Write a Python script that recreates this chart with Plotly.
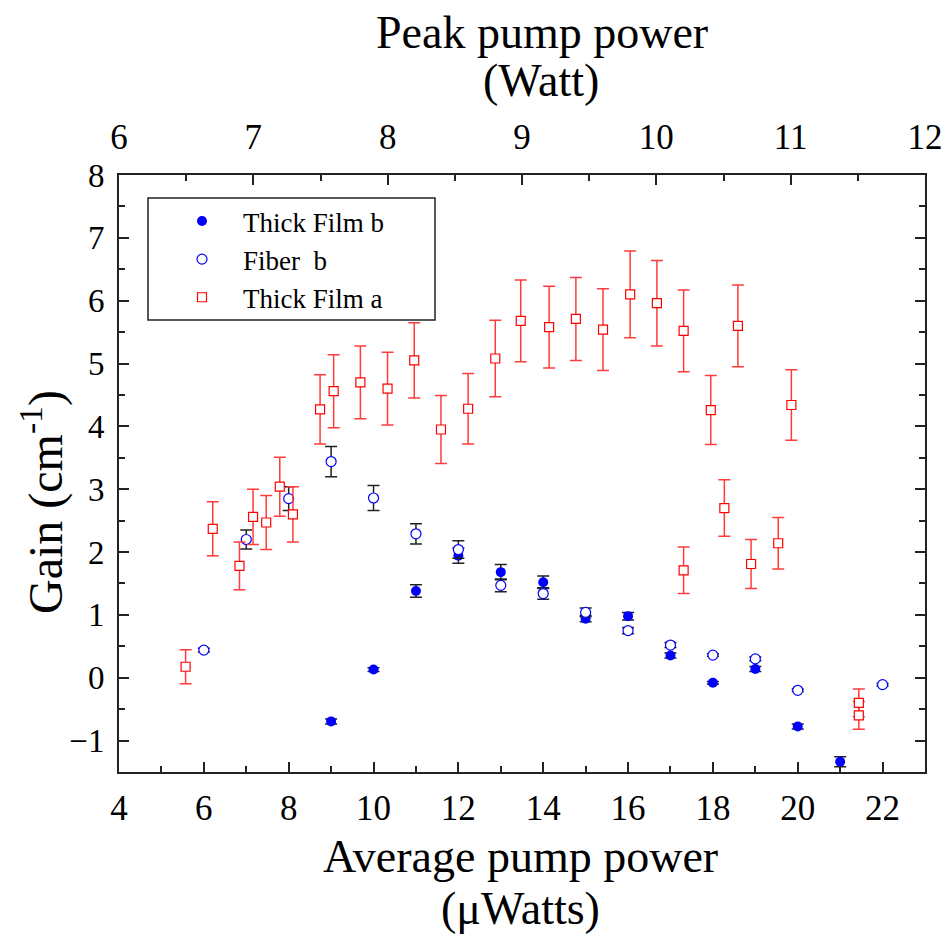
import plotly.graph_objects as go

# ---------------- data ----------------
# Thick Film a (red open squares)
tfa_x = [5.57, 6.21, 6.84, 7.16, 7.47, 7.79, 8.10, 8.74, 9.06, 9.69, 10.33, 10.96,
         11.59, 12.23, 12.87, 13.47, 14.14, 14.77, 15.41, 16.05, 16.68, 17.31,
         17.95, 18.59, 19.85, 17.31, 18.27, 18.90, 19.54, 21.44, 21.44]
tfa_y = [0.175, 2.37, 1.78, 2.56, 2.47, 3.04, 2.60, 4.27, 4.56, 4.70, 4.60, 5.05,
         3.95, 4.28, 5.08, 5.68, 5.58, 5.71, 5.54, 6.10, 5.96, 5.52,
         4.26, 5.60, 4.34, 1.71, 2.70, 1.81, 2.14, -0.40, -0.60]
tfa_err = [0.27, 0.43, 0.38, 0.44, 0.43, 0.47, 0.44, 0.55, 0.58, 0.58, 0.58, 0.60,
           0.54, 0.56, 0.61, 0.65, 0.65, 0.66, 0.65, 0.69, 0.68, 0.65,
           0.55, 0.65, 0.56, 0.37, 0.45, 0.39, 0.41, 0.22, 0.22]

# Fiber b (blue open circles)
fib_x = [6, 7, 8, 9, 10, 11, 12, 13, 14, 15, 16, 17, 18, 19, 20, 22]
fib_y = [0.44, 2.20, 2.85, 3.44, 2.86, 2.29, 2.04, 1.47, 1.34, 1.04, 0.75, 0.52,
         0.36, 0.30, -0.20, -0.11]
fib_err = [0.03, 0.15, 0.19, 0.24, 0.20, 0.16, 0.14, 0.10, 0.09, 0.07, 0.05, 0.04,
           0.02, 0.03, 0.02, 0.02]

# Thick Film b (blue filled circles)
tfb_x = [9, 10, 11, 12, 13, 14, 15, 16, 17, 18, 19, 20, 21]
tfb_y = [-0.695, 0.13, 1.38, 1.94, 1.68, 1.52, 0.94, 0.98, 0.355, -0.08, 0.14,
         -0.775, -1.336]
tfb_err = [0.04, 0.03, 0.10, 0.12, 0.12, 0.10, 0.05, 0.06, 0.04, 0.02, 0.04,
           0.04, 0.08]

bottom_ticks = [4, 6, 8, 10, 12, 14, 16, 18, 20, 22]
top_ticks = [6, 7, 8, 9, 10, 11, 12]
y_ticks = [-1, 0, 1, 2, 3, 4, 5, 6, 7, 8]

FONT = "Liberation Serif"

fig = go.Figure()

fig.add_trace(go.Scatter(
    x=tfb_x, y=tfb_y, mode="markers", name="Thick Film b",
    marker=dict(symbol="circle", size=10, color="#0000ff", line=dict(width=0)),
    error_y=dict(type="data", array=tfb_err, visible=True, color="#222222",
                 thickness=1.5, width=6),
))
fig.add_trace(go.Scatter(
    x=fib_x, y=fib_y, mode="markers", name="Fiber  b",
    marker=dict(symbol="circle", size=10, color="white",
                line=dict(width=1.2, color="#0000ff")),
    error_y=dict(type="data", array=fib_err, visible=True, color="#222222",
                 thickness=1.5, width=6),
))
fig.add_trace(go.Scatter(
    x=tfa_x, y=tfa_y, mode="markers", name="Thick Film a",
    marker=dict(symbol="square", size=9, color="white",
                line=dict(width=1.2, color="#ff0000")),
    error_y=dict(type="data", array=tfa_err, visible=True, color="rgb(255,60,60)",
                 thickness=1.5, width=6),
))
# empty trace that only activates the top (peak power) axis
fig.add_trace(go.Scatter(
    x=top_ticks, y=[None] * len(top_ticks), xaxis="x2", yaxis="y",
    mode="markers", showlegend=False, hoverinfo="skip",
))

axis_common = dict(
    showline=True, linewidth=2, linecolor="#222222", showgrid=False,
    zeroline=False, ticks="inside", ticklen=10, tickwidth=2, tickcolor="#222222",
    automargin=False,
)

fig.update_layout(
    width=947, height=938,
    margin=dict(l=119, r=22, t=175, b=166),
    paper_bgcolor="white", plot_bgcolor="white",
    showlegend=True,
    legend=dict(
        x=(161 - 119) / 806, y=(772 - 197) / 597, xanchor="left", yanchor="top",
        bgcolor="rgba(0,0,0,0)", borderwidth=0, itemwidth=72,
        font=dict(family=FONT, size=27, color="black"),
    ),
    xaxis=dict(range=[4, 23], tickvals=bottom_ticks,
               tickfont=dict(family=FONT, size=35, color="black"),
               ticklabelstandoff=4,
               minor=dict(dtick=1, tick0=4, ticks="inside", ticklen=6, tickwidth=1.5,
                          tickcolor="#222222"),
               **axis_common),
    xaxis2=dict(range=[6, 12], tickvals=top_ticks, overlaying="x", side="top",
                anchor="y",
                tickfont=dict(family=FONT, size=35, color="black"),
                ticklabelstandoff=10,
                minor=dict(dtick=0.5, tick0=6, ticks="inside", ticklen=6, tickwidth=1.5,
                           tickcolor="#222222"),
                **axis_common),
    yaxis=dict(range=[-1.5, 8], tickvals=y_ticks, mirror="ticks",
               tickfont=dict(family=FONT, size=33, color="black"),
               ticklabelstandoff=6,
               minor=dict(dtick=0.5, tick0=0, ticks="inside", ticklen=6, tickwidth=1.5,
                          tickcolor="#222222"),
               **axis_common),
)

# legend box
fig.add_shape(type="rect", xref="paper", yref="paper",
              x0=(148 - 119) / 806, x1=(435 - 119) / 806,
              y0=(772 - 320) / 597, y1=(772 - 198) / 597,
              line=dict(color="#222222", width=1.5), fillcolor="rgba(0,0,0,0)")

def ann(text, px, py, size, angle=0):
    fig.add_annotation(text=text, xref="paper", yref="paper",
                       x=(px - 119) / 806, y=(772 - py) / 597,
                       xanchor="center", yanchor="middle", showarrow=False,
                       textangle=angle,
                       font=dict(family=FONT, size=size, color="black"))

ann("Peak pump power", 542, 33, 46)
ann("(Watt)", 541, 80, 46)
ann("Average pump power", 520, 856, 46)
ann("(\u03bcWatts)", 520, 908, 46)
ann("Gain (cm<sup>-1</sup>)", 42, 502, 48, angle=-90)

fig.write_html("out.html")
